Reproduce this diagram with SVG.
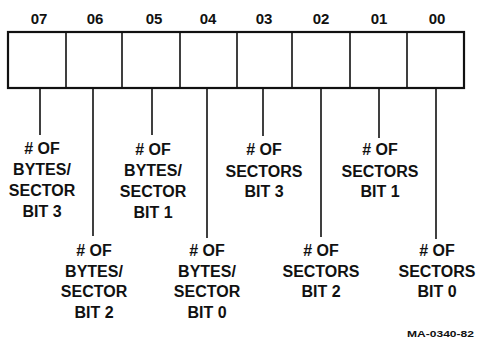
<svg xmlns="http://www.w3.org/2000/svg" width="479" height="339" viewBox="0 0 479 339">
<style>
.hd{font-family:"Liberation Sans",Arial,sans-serif;font-size:15px;font-weight:bold;text-anchor:middle;fill:#111}
.lb{font-family:"Liberation Sans",Arial,sans-serif;font-size:16px;font-weight:bold;text-anchor:middle;fill:#111}
.ft{font-family:"Liberation Sans",Arial,sans-serif;font-size:9.5px;font-weight:bold;fill:#111}
.ln{stroke:#111;stroke-width:1.6;fill:none}
</style>
<rect width="479" height="339" fill="#fff"/>
<g id="register">
<rect x="8" y="32" width="456" height="56" fill="none" stroke="#111" stroke-width="2.2"/>
<path class="ln" d="M66 32V88M122 32V88M180 32V88M237 32V88M292 32V88M350 32V88M407 32V88"/>
<text class="hd" x="39" y="24">07</text>
<text class="hd" x="95" y="24">06</text>
<text class="hd" x="154" y="24">05</text>
<text class="hd" x="208" y="24">04</text>
<text class="hd" x="264" y="24">03</text>
<text class="hd" x="321" y="24">02</text>
<text class="hd" x="379" y="24">01</text>
<text class="hd" x="437" y="24">00</text>
</g>
<g id="connectors">
<path class="ln" d="M40 88V135M93 88V236M152 88V135M207 88V238M263 88V136M321 88V237M379 88V138M436 88V239"/>
</g>
<g id="bit7"><text class="lb" x="42"><tspan x="42" y="154"># OF</tspan><tspan x="42" y="175">BYTES/</tspan><tspan x="42" y="196">SECTOR</tspan><tspan x="42" y="217">BIT 3</tspan></text></g>
<g id="bit6"><text class="lb" x="94"><tspan x="94" y="256"># OF</tspan><tspan x="94" y="277">BYTES/</tspan><tspan x="94" y="297">SECTOR</tspan><tspan x="94" y="318">BIT 2</tspan></text></g>
<g id="bit5"><text class="lb" x="153"><tspan x="153" y="155"># OF</tspan><tspan x="153" y="176">BYTES/</tspan><tspan x="153" y="197">SECTOR</tspan><tspan x="153" y="218">BIT 1</tspan></text></g>
<g id="bit4"><text class="lb" x="207"><tspan x="207" y="256"># OF</tspan><tspan x="207" y="277">BYTES/</tspan><tspan x="207" y="297">SECTOR</tspan><tspan x="207" y="318">BIT 0</tspan></text></g>
<g id="bit3"><text class="lb" x="264"><tspan x="264" y="155"># OF</tspan><tspan x="264" y="177">SECTORS</tspan><tspan x="264" y="197">BIT 3</tspan></text></g>
<g id="bit2"><text class="lb" x="321"><tspan x="321" y="256"># OF</tspan><tspan x="321" y="277">SECTORS</tspan><tspan x="321" y="297">BIT 2</tspan></text></g>
<g id="bit1"><text class="lb" x="380"><tspan x="380" y="155"># OF</tspan><tspan x="380" y="177">SECTORS</tspan><tspan x="380" y="197">BIT 1</tspan></text></g>
<g id="bit0"><text class="lb" x="437"><tspan x="437" y="256"># OF</tspan><tspan x="437" y="277">SECTORS</tspan><tspan x="437" y="297">BIT 0</tspan></text></g>
<text class="ft" x="407" y="337" textLength="67" lengthAdjust="spacingAndGlyphs">MA-0340-82</text>
</svg>
